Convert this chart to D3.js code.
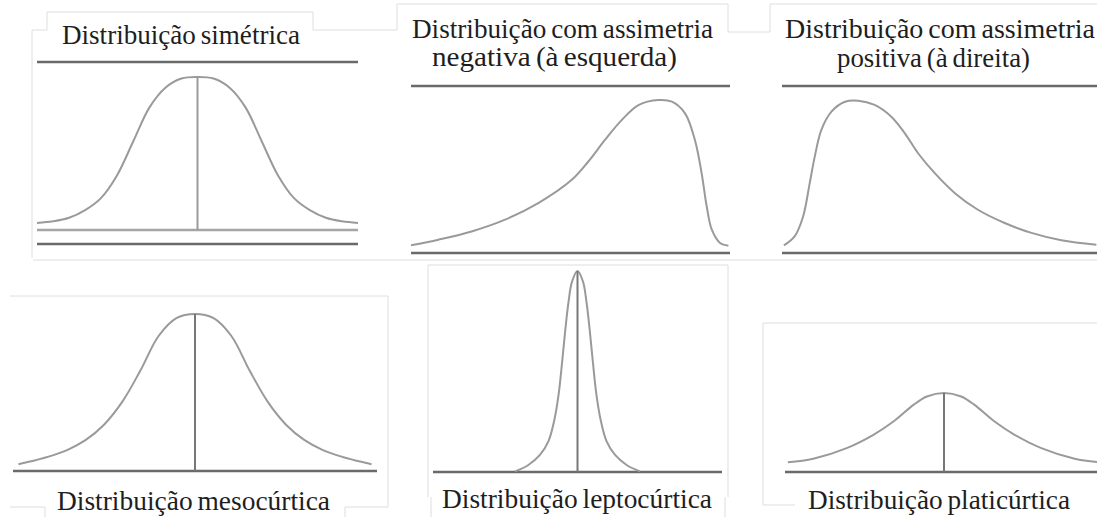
<!DOCTYPE html>
<html>
<head>
<meta charset="utf-8">
<script src="https://cdn.jsdelivr.net/npm/d3@7"></script>
<style>
  body { margin: 0; background: #fff; }
  svg { display: block; }
</style>
</head>
<body>
<div id="chart"></div>
<script>
// Curve shapes
// x: 0-100 across the base line, y: 0-100 of the peak height

// Distribuição simétrica
const simX = [0, 5, 10, 15, 20, 25, 30, 35, 40, 45, 50, 55, 60, 65, 70, 75, 80, 85, 90, 95, 100];
const simY = [4.6, 5.7, 8, 13, 21, 36, 58, 80, 93, 99, 100, 99, 93, 80, 58, 36, 21, 13, 8, 5.7, 4.6];

// assimetria negativa (à esquerda)
const negX = [0, 8.6, 19, 29.5, 39.9, 50.4, 55.6, 60.8, 66.1, 71.3, 77.6, 81.8, 85.9, 89, 91.1, 92.7, 94.3, 96.9, 99.5];
const negY = [5, 8.7, 14.1, 21.8, 32.6, 47.8, 59.8, 73.9, 87, 96.7, 100, 98.9, 91.3, 73.9, 52.2, 30.4, 15.2, 6.5, 4.8];

// assimetria positiva (à direita)
const posX = [0.6, 4, 6.7, 8.8, 10.4, 12.5, 15.7, 20, 24.2, 29.4, 34.7, 39, 43.2, 48.5, 54.9, 62.2, 70.7, 79.2, 88.7, 99.8];
const posY = [5, 10.9, 24, 45.9, 63.3, 80.8, 92.8, 99.3, 100, 97.2, 89.5, 78.6, 65.5, 52.4, 39.3, 28.4, 19.7, 13.2, 8.4, 5.4];

// mesocúrtica
const mesoX = [1.5, 5, 10, 15, 20, 25, 30, 35, 40, 45, 50, 55, 60, 65, 70, 75, 80, 85, 90, 95, 98.5];
const mesoY = [4.3, 6.2, 9.3, 13.5, 19.8, 29.5, 44, 64, 86, 97.5, 100, 97.5, 86, 64, 44, 29.5, 19.8, 13.5, 9.3, 6.2, 4.3];

// leptocúrtica
const leptoX = [28.4, 33, 37, 40, 42, 43.5, 44.7, 45.8, 46.9, 48.1, 50, 51.9, 53.1, 54.2, 55.3, 56.5, 58, 60, 63, 67, 71.6];
const leptoY = [0.3, 3.5, 8.5, 15.5, 26, 39, 55, 71, 84.7, 94.7, 100, 94.7, 84.7, 71, 55, 39, 26, 15.5, 8.5, 3.5, 0.3];

// platicúrtica
const platiX = [0.9, 8.9, 19.4, 27.8, 34.1, 40.4, 44.6, 50, 55.4, 59.6, 65.9, 72.2, 80.6, 91.1, 99.1];
const platiY = [12.2, 16.8, 30.3, 47.1, 63.9, 85, 95.6, 100, 95.6, 85, 63.9, 47.1, 30.3, 16.8, 12.2];

const topTitles = [
    ["Distribuição simétrica"],
    ["Distribuição com assimetria", "negativa (à esquerda)"],
    ["Distribuição com assimetria", "positiva (à direita)"]
];
const bottomTitles = ["Distribuição mesocúrtica", "Distribuição leptocúrtica", "Distribuição platicúrtica"];

const width = 1097;
const height = 517;

const svg = d3.select("#chart").append("svg")
    .attr("width", width)
    .attr("height", height);

const curveColor = "#9a9a9a";
const ruleColor = "#6a6a6a";
const frameColor = "#dedede";
const font = "'Liberation Serif', 'Times New Roman', Times, serif";

// faint frames of the cut-out pictures
const frames = [
    [[32, 258], [32, 30], [47, 30], [47, 12], [313, 12], [313, 30], [397, 30]],
    [[397, 30], [397, 4], [728, 4], [728, 32], [770, 32]],
    [[770, 32], [770, 4], [1097, 4]],
    [[33, 260], [1097, 260]],
    [[10, 296], [388, 296], [388, 507], [345, 507], [345, 517]],
    [[10, 507], [45, 507], [45, 517]],
    [[428, 497], [428, 265], [728, 265], [728, 497]],
    [[431, 497], [431, 517]],
    [[725, 497], [725, 517]],
    [[763, 505], [763, 323], [1097, 323]],
    [[763, 505], [795, 505]]
];
frames.forEach(f => {
    svg.append("path")
        .attr("d", d3.line()(f))
        .attr("fill", "none")
        .attr("stroke", frameColor)
        .attr("stroke-width", 1);
});

const panels = [
    {xs: simX, ys: simY, xr: [37, 358], yr: [230, 77], mid: true, topRule: 62, extraBase: 244, baseColor: "#a5a5a5"},
    {xs: negX, ys: negY, xr: [411, 730], yr: [253, 100], topRule: 86},
    {xs: posX, ys: posY, xr: [782, 1097], yr: [253, 100.7], topRule: 86},
    {xs: mesoX, ys: mesoY, xr: [13, 377], yr: [471, 314], mid: true},
    {xs: leptoX, ys: leptoY, xr: [433, 722], yr: [472, 271], mid: true},
    {xs: platiX, ys: platiY, xr: [785, 1103], yr: [472, 393], mid: true}
];

panels.forEach(p => {
    const x = d3.scaleLinear().domain([0, 100]).range(p.xr);
    const y = d3.scaleLinear().domain([0, 100]).range(p.yr);
    const g = svg.append("g");

    // base line
    g.append("line")
        .attr("x1", x(0)).attr("x2", x(100))
        .attr("y1", y(0)).attr("y2", y(0))
        .attr("stroke", p.baseColor || ruleColor)
        .attr("stroke-width", 2.5);

    if (p.extraBase) {
        g.append("line")
            .attr("x1", x(0)).attr("x2", x(100))
            .attr("y1", p.extraBase).attr("y2", p.extraBase)
            .attr("stroke", ruleColor)
            .attr("stroke-width", 2.5);
    }

    if (p.topRule) {
        g.append("line")
            .attr("x1", x(0)).attr("x2", x(100))
            .attr("y1", p.topRule).attr("y2", p.topRule)
            .attr("stroke", ruleColor)
            .attr("stroke-width", 2.5);
    }

    const pts = p.xs.map((v, i) => [v, p.ys[i]]);
    const line = d3.line()
        .x(d => x(d[0]))
        .y(d => y(d[1]))
        .curve(d3.curveCatmullRom.alpha(0.5));

    g.append("path")
        .datum(pts)
        .attr("d", line)
        .attr("fill", "none")
        .attr("stroke", curveColor)
        .attr("stroke-width", 2);

    // line at the centre, from base to peak
    if (p.mid) {
        const peak = pts[d3.maxIndex(pts, d => d[1])];
        g.append("line")
            .attr("x1", x(peak[0])).attr("x2", x(peak[0]))
            .attr("y1", y(0)).attr("y2", y(peak[1]))
            .attr("stroke", p.topRule ? curveColor : "#777")
            .attr("stroke-width", 2);
    }
});

// titles
function addTitle(t, pos) {
    svg.append("text")
        .attr("x", pos.x)
        .attr("y", pos.y)
        .attr("textLength", pos.w)
        .attr("lengthAdjust", "spacingAndGlyphs")
        .style("font-family", font)
        .style("font-size", "28px")
        .style("word-spacing", "-2px")
        .style("fill", "#1e1e1e")
        .text(t);
}

const topText = [
    [{x: 62, y: 44, w: 238}],
    [{x: 412, y: 38, w: 301}, {x: 432, y: 66, w: 245}],
    [{x: 785, y: 38, w: 310}, {x: 837, y: 67, w: 193}]
];
topTitles.forEach((lines, i) => {
    lines.forEach((t, j) => addTitle(t, topText[i][j]));
});

const bottomText = [
    {x: 57, y: 510, w: 273},
    {x: 442, y: 508, w: 270},
    {x: 808, y: 509, w: 262}
];
bottomTitles.forEach((t, i) => addTitle(t, bottomText[i]));
</script>
</body>
</html>
